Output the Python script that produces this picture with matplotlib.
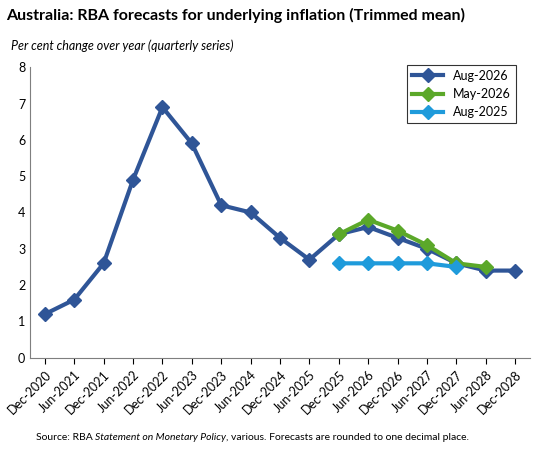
import matplotlib
matplotlib.use("Agg")
import matplotlib.pyplot as plt
import numpy as np

plt.rcParams['font.family'] = ['Lato', 'DejaVu Sans']

categories = ["Dec-2020","Jun-2021","Dec-2021","Jun-2022","Dec-2022","Jun-2023","Dec-2023","Jun-2024",
              "Dec-2024","Jun-2025","Dec-2025","Jun-2026","Dec-2026","Jun-2027","Dec-2027","Jun-2028","Dec-2028"]
aug2026 = [1.2,1.6,2.6,4.9,6.9,5.9,4.2,4.0,3.3,2.7,3.4,3.6,3.3,3.0,2.6,2.4,2.4]
may2026 = [3.4,3.8,3.5,3.1,2.6,2.5]
aug2025 = [2.6,2.6,2.6,2.6,2.5]

fig = plt.figure(figsize=(5.48,4.54), dpi=100)
ax = fig.add_axes([0.055, 0.212, 0.912, 0.64])
x = np.arange(len(categories))
ax.plot(x, aug2026, color="#2F5597", lw=3, marker="D", ms=7.5, label="Aug-2026", zorder=3)
ax.plot(x[10:10+len(may2026)], may2026, color="#5BA829", lw=3, marker="D", ms=7.5, label="May-2026", zorder=4)
ax.plot(x[10:10+len(aug2025)], aug2025, color="#1F9BDB", lw=3, marker="D", ms=7.5, label="Aug-2025", zorder=5)

ax.set_ylim(0,8)
ax.set_xlim(-0.5, len(categories)-0.5)
ax.set_yticks(range(0,9))
ax.set_xticks(x)
ax.set_xticklabels(categories, rotation=45, ha="right", rotation_mode="anchor", fontsize=9)
ax.tick_params(axis='y', labelsize=9, length=0)
ax.tick_params(axis='x', length=4)
for s in ["top","right"]:
    ax.spines[s].set_visible(False)
ax.spines["left"].set_color("#7f7f7f")
ax.spines["bottom"].set_color("#7f7f7f")
leg = ax.legend(loc="upper right", bbox_to_anchor=(0.985, 1.03), fontsize=9, frameon=True, fancybox=False,
                edgecolor="black", handlelength=2.5)
leg.get_frame().set_linewidth(0.8)

fig.text(0.012, 0.965, "Australia: RBA forecasts for underlying inflation (Trimmed mean)", fontsize=11.5, fontweight="bold", va="center")
fig.text(0.02, 0.9, "Per cent change over year (quarterly series)", fontsize=9, style="italic", va="center")
t1 = fig.text(0.065, 0.037, "Source: RBA ", fontsize=7.5, va="center")
fig.canvas.draw()
r = fig.canvas.get_renderer()
bb = t1.get_window_extent(r)
t2 = fig.text(bb.x1/fig.bbox.width, 0.037, "Statement on Monetary Policy", fontsize=7.5, va="center", style="italic")
bb2 = t2.get_window_extent(r)
fig.text(bb2.x1/fig.bbox.width, 0.037, ", various. Forecasts are rounded to one decimal place.", fontsize=7.5, va="center")
fig.savefig("out.png", dpi=100)
